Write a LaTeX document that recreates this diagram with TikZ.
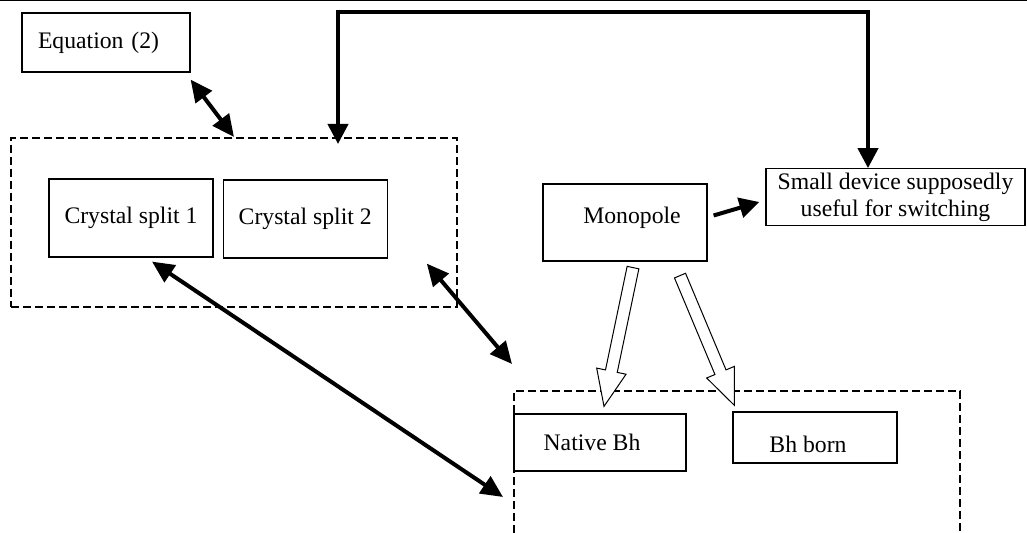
\documentclass[tikz,border=0pt]{standalone}
\usepackage{fontspec}
\setmainfont{Liberation Serif}
\usepackage{tikz}
\usetikzlibrary{calc, positioning, arrows.meta}
\tikzset{
box/.style={
  draw, rectangle, line width=0.6pt,
  inner sep=2pt, align=center,
  font=\fontsize{11.85}{13.5}\selectfont
},
dashbox/.style={draw, line width=1pt, dash pattern=on 4pt off 2pt},
link/.style={line width=2pt, -{Triangle[length=10pt,width=10pt]}},
twoway/.style={line width=2pt, {Triangle[length=11pt,width=10pt]}-{Triangle[length=11pt,width=10pt]}},
hollow/.style={draw, line width=0.5pt, fill=white, line join=miter}
}
\newcommand{\hollowarrow}[2]{%
  \coordinate (ha-base) at ($(#2)!18pt!(#1)$);
  \draw[hollow] ($(#1)!3pt!90:(#2)$) -- ($(ha-base)!3pt!-90:(#1)$)
    -- ($(ha-base)!7.5pt!-90:(#1)$) -- (#2) -- ($(ha-base)!7.5pt!90:(#1)$)
    -- ($(ha-base)!3pt!90:(#1)$) -- ($(#1)!3pt!-90:(#2)$) -- cycle;
}

\begin{document}
\begin{tikzpicture}[x=0.5pt, y=-0.5pt]
    \useasboundingbox (0,0) rectangle (1027,533);
    \draw[line width=0.5pt] (0,1) -- (1027,1);

    \node[box, minimum width=84pt, minimum height=29.5pt, text width=68pt, align=left] (eq) at (106,42.5) {Equation (2)};

    \node[dashbox, minimum width=223pt, minimum height=84.5pt] (split) at (234,222.5) {};
    \node[box, minimum width=82pt, minimum height=39pt] (cs1) at (131,218) {Crystal split 1};
    \node[box, minimum width=82pt, minimum height=39pt, right=4.5pt of cs1, yshift=-0.5pt] (cs2) {Crystal split 2};

    \node[box, minimum width=82pt, minimum height=38.5pt, text height=8pt, text depth=6.5pt] (mono) at (625,222.5) {\hspace*{7pt}Monopole};
    \node[box, minimum width=129.5pt, minimum height=27pt] (small) at (895.5,197) {Small device supposedly\\useful for switching};

    \coordinate (bhgroup) at (514,391);
    \draw[dashbox] (514,533) -- (bhgroup) -- (960,391) -- (960,533);
    \node[box, minimum width=86pt, minimum height=28.5pt] (native) at (600,442.5) {Native Bh\hspace*{8pt}};
    \node[box, minimum width=82pt, minimum height=25.5pt, text height=15pt, text depth=0pt] (born) at (815,437.5) {Bh born\hspace*{7pt}};

    \coordinate (tl) at (338,12);
    \coordinate (tr) at (868,12);
    \draw[link, {Triangle[length=10pt,width=10pt]}-{Triangle[length=10pt,width=10pt]}]
        ($(split.north)+(104,7)$) -- (tl) -- (tr) -- ($(small.north)+(-27.5,0)$);

    \draw[twoway] ($(eq.south east)+(0,7)$) -- (split.north);
    \draw[twoway] ($(cs1.south)+(21,4)$) -- ($(bhgroup)+(-11,106)$);
    \draw[twoway] ($(cs2.south east)+(39,5)$) -- ($(bhgroup)+(-2,-27)$);
    \draw[link] ($(mono.east)+(6,-7)$) -- ($(small.west)+(-6,5)$);

    \coordinate (m1) at ($(mono.south)+(8,6)$);
    \coordinate (n1) at ($(native.north)+(4,-7)$);
    \coordinate (m2) at ($(mono.south)+(55,14)$);
    \coordinate (b2) at ($(born.north west)+(2,-6)$);
    \hollowarrow{m1}{n1}
    \hollowarrow{m2}{b2}
\end{tikzpicture}
\end{document}
